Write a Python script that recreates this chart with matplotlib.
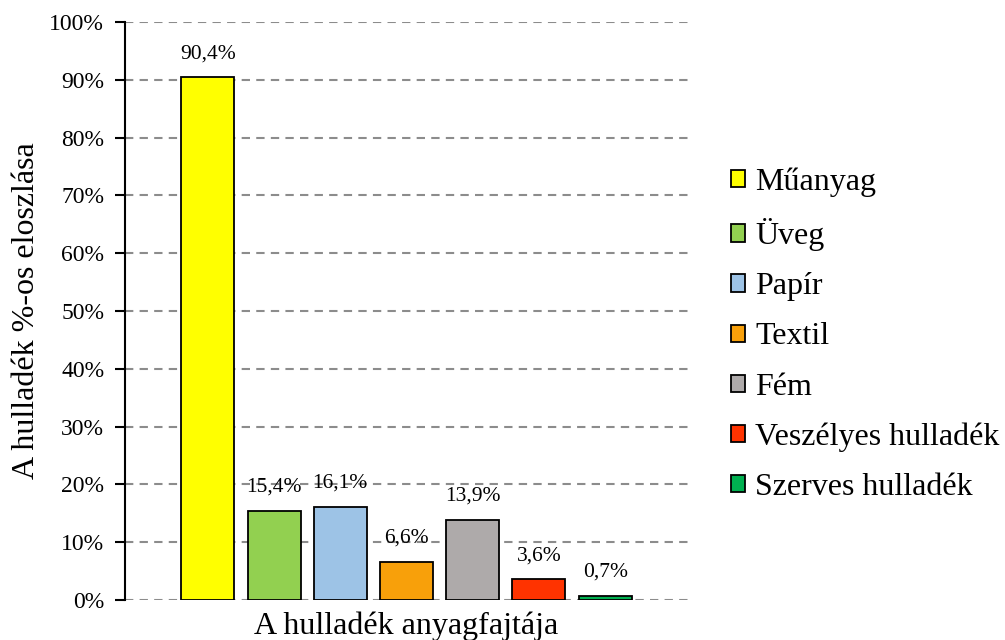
import matplotlib.pyplot as plt

# adatok
kategoriak = ['Műanyag', 'Üveg', 'Papír', 'Textil', 'Fém', 'Veszélyes hulladék', 'Szerves hulladék']
ertekek = [90.4, 15.4, 16.1, 6.6, 13.9, 3.6, 0.7]
szinek = ['#ffff00', '#92d050', '#9dc3e6', '#f8a00a', '#aeaaaa', '#ff3300', '#00b050']

plt.rcParams['font.family'] = ['Liberation Serif', 'DejaVu Serif']

fig = plt.figure(figsize=(10.05, 6.4), dpi=100)
ax = fig.add_axes([125 / 1005, 40 / 640, 563 / 1005, 578 / 640])

x = range(len(kategoriak))
bars = ax.bar(x, ertekek, width=0.8, color=szinek, edgecolor='black', linewidth=1.3,
              label=kategoriak, zorder=3)

for i, v in enumerate(ertekek):
    ax.annotate(f'{v:.1f}%'.replace('.', ','), (i, v), xytext=(0, 17), textcoords='offset points',
                ha='center', va='center', fontsize=15.5, zorder=2)

ax.set_xlim(-1.25, 6.25 + 1)
ax.set_ylim(0, 100)
ax.set_yticks(range(0, 101, 10))
ax.set_yticklabels([f'{t}%' for t in range(0, 101, 10)], fontsize=17)
ax.set_xticks([])
ax.yaxis.grid(True, linestyle=(0, (4, 3)), color='#8c8c8c', linewidth=1.5, zorder=0)
ax.set_axisbelow(True)

for s in ['top', 'right', 'bottom']:
    ax.spines[s].set_visible(False)
ax.spines['left'].set_linewidth(1.5)
ax.tick_params(axis='y', length=7, width=1.5, pad=8)

ax.set_ylabel('A hulladék %-os eloszlása', fontsize=23, labelpad=6)
ax.set_xlabel('A hulladék anyagfajtája', fontsize=23, labelpad=8)

fig.legend(handles=bars.patches, labels=kategoriak, loc='center left',
           bbox_to_anchor=(731 / 1005, 1 - 335 / 640), frameon=False, fontsize=23,
           borderpad=0, borderaxespad=0,
           handlelength=0.45, handleheight=0.45, handletextpad=0.3, labelspacing=0.66)

fig.savefig('out.png', dpi=100)
